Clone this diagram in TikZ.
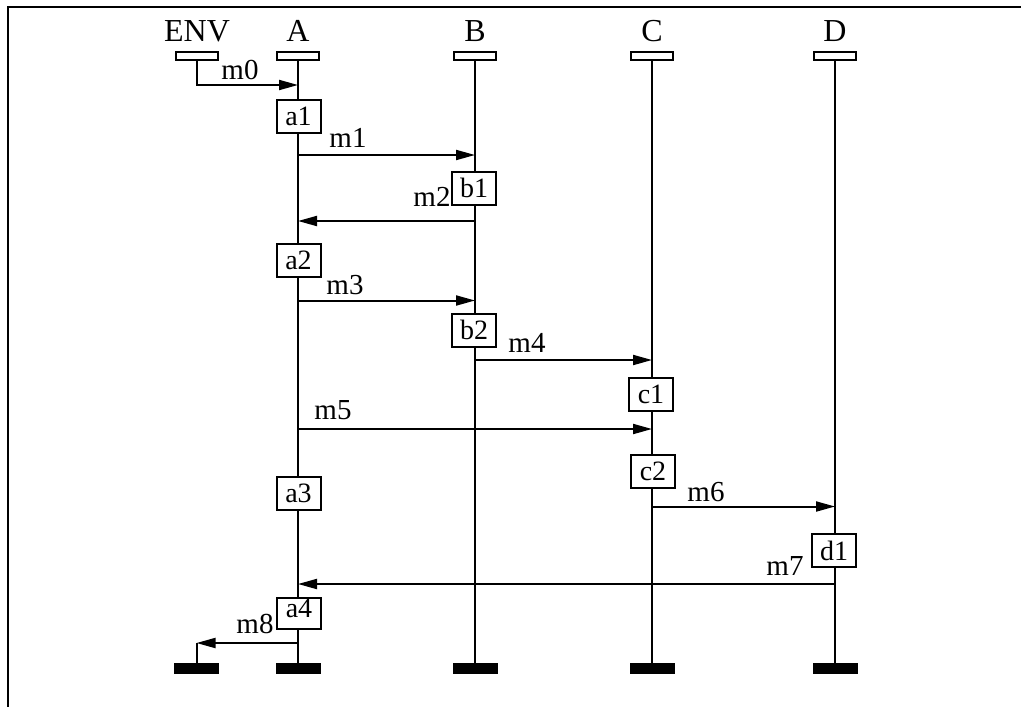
\documentclass[tikz,border=0pt]{standalone}
\usepackage{fontspec}
\setmainfont{Liberation Serif}
\usetikzlibrary{arrows.meta}
\begin{document}
\begin{tikzpicture}[x=0.5pt,y=-0.5pt,
  every node/.style={font=\fontsize{14}{16}\selectfont},
  line/.style={line width=1pt},
  msg/.style={line width=1pt,-{Triangle[length=9.5pt,width=5pt]}},
  title/.style={font=\fontsize{16}{18}\selectfont,inner sep=0pt},
  head/.style={draw,line width=1pt,fill=white,minimum width=21pt,minimum height=4pt,inner sep=0pt},
  endbar/.style={fill=black,minimum width=22.5pt,minimum height=5.5pt,inner sep=0pt},
  act/.style={draw,line width=1pt,fill=white,minimum width=22pt,minimum height=16.5pt,inner sep=0pt},
  lbl/.style={font=\fontsize{14.5}{16}\selectfont,inner sep=0pt}]
\useasboundingbox (0,0) rectangle (1021,707);
\draw[line width=1pt] (1021,6.5) -- (8,6.5) -- (8,707);
% titles
\node[title] (tENV) at (197,31) {ENV};
\node[title] (tA) at (298,31) {A};
\node[title] (tB) at (475,31) {B};
\node[title] (tC) at (652,31) {C};
\node[title] (tD) at (835,31) {D};
% heads
\node[head] (hENV) at (196.5,55.5) {};
\node[head] (hA) at (298,55.5) {};
\node[head] (hB) at (475,55.5) {};
\node[head] (hC) at (652,55.5) {};
\node[head] (hD) at (835,55.5) {};
% end bars
\node[endbar] (eENV) at (196.5,668.5) {};
\node[endbar] (eA) at (298,668.5) {};
\node[endbar] (eB) at (475,668.5) {};
\node[endbar] (eC) at (652,668.5) {};
\node[endbar] (eD) at (835,668.5) {};
% lifelines
\draw[line] (hA.south) -- (eA.north);
\draw[line] (hB.south) -- (eB.north);
\draw[line] (hC.south) -- (eC.north);
\draw[line] (hD.south) -- (eD.north);
% message coordinates
\coordinate (m0e) at (298,85);
\coordinate (m1s) at (298,155);   \coordinate (m1e) at (475,155);
\coordinate (m2s) at (475,221);   \coordinate (m2e) at (298,221);
\coordinate (m3s) at (298,300.5); \coordinate (m3e) at (475,300.5);
\coordinate (m4s) at (475,360);   \coordinate (m4e) at (652,360);
\coordinate (m5s) at (298,429);   \coordinate (m5e) at (652,429);
\coordinate (m6s) at (652,506.5); \coordinate (m6e) at (835,506.5);
\coordinate (m7s) at (835,584);   \coordinate (m7e) at (298,584);
\coordinate (m8s) at (298,643);   \coordinate (m8e) at (196.5,643);
% messages
\draw[msg] (hENV.south) |- (m0e);
\draw[msg] (m1s) -- (m1e);
\draw[msg] (m2s) -- (m2e);
\draw[msg] (m3s) -- (m3e);
\draw[msg] (m4s) -- (m4e);
\draw[msg] (m5s) -- (m5e);
\draw[msg] (m6s) -- (m6e);
\draw[msg] (m7s) -- (m7e);
\draw[msg] (m8s) -- (m8e);
\draw[line] (m8e) -- (eENV.north);
% message labels
\node[lbl] (l0) at (240,70) {m0};
\node[lbl] (l1) at (348,138) {m1};
\node[lbl] (l2) at (432,197) {m2};
\node[lbl] (l3) at (345,285) {m3};
\node[lbl] (l4) at (527,343) {m4};
\node[lbl] (l5) at (333,410) {m5};
\node[lbl] (l6) at (706,492) {m6};
\node[lbl] (l7) at (785,566) {m7};
\node[lbl] (l8) at (255,624) {m8};
% activity boxes
\node[act] (a1) at (298.5,116) {a1};
\node[act] (b1) at (474,188) {b1};
\node[act] (a2) at (298.5,260) {a2};
\node[act] (b2) at (474,330) {b2};
\node[act] (c1) at (651,394) {c1};
\node[act] (c2) at (653,471.5) {c2};
\node[act] (a3) at (298.5,493.5) {a3};
\node[act] (d1) at (834,550.5) {d1};
\node[act,minimum height=15.5pt,text depth=5pt] (a4) at (299,613.5) {a4};
\end{tikzpicture}
\end{document}
